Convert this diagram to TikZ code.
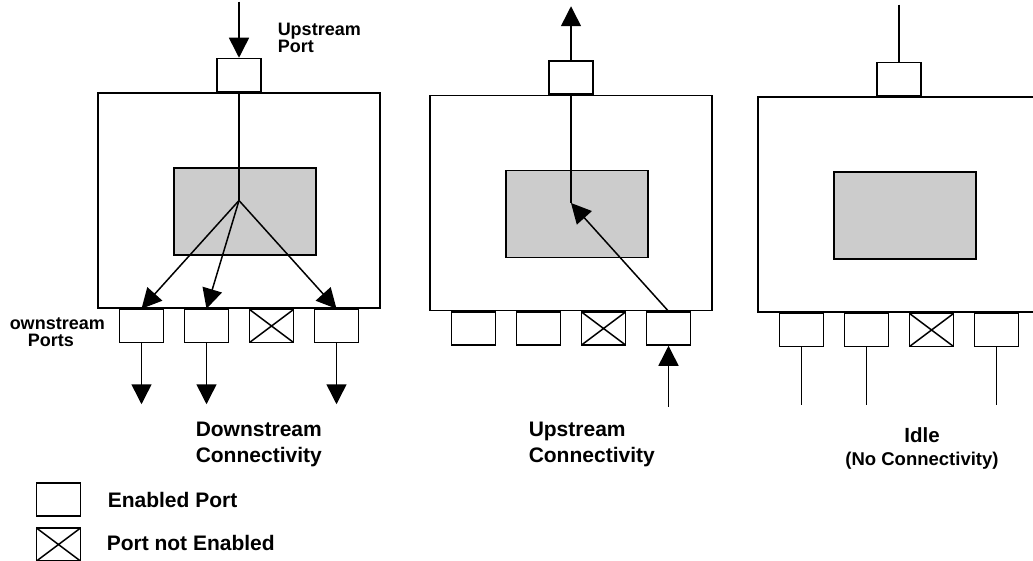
\documentclass[tikz,border=0pt]{standalone}
\usepackage{fontspec}
\setmainfont{Liberation Sans}
\usetikzlibrary{arrows.meta, positioning, calc}

\begin{document}
\begin{tikzpicture}[
    x=1pt, y=-1pt,
    line width=1.5pt,
    switch/.style={
        rectangle,
        draw,
        minimum width=282pt,
        minimum height=215pt,
        inner sep=0pt
    },
    core/.style={
        rectangle,
        draw,
        fill=black!20,
        minimum width=142pt,
        minimum height=87pt,
        inner sep=0pt
    },
    port/.style={
        rectangle,
        draw,
        fill=white,
        minimum width=44pt,
        minimum height=33pt,
        inner sep=0pt
    },
    offport/.style={
        port,
        path picture={
            \draw (path picture bounding box.south west) -- (path picture bounding box.north east)
                  (path picture bounding box.north west) -- (path picture bounding box.south east);
        }
    },
    arrow/.style={
        -{Triangle[length=20pt, width=20pt]},
        line width=1.5pt
    },
    caption/.style={
        font=\bfseries\fontsize{21}{26}\selectfont,
        inner sep=0pt,
        align=left
    },
    smallcap/.style={
        caption,
        font=\bfseries\fontsize{18}{17.5}\selectfont
    }
]

\useasboundingbox (0,0) rectangle (1033,561);
\clip (0,0) rectangle (1033,561);

% the three switches
\foreach \n/\cx/\cy in {1/239/200.5, 2/571/203, 3/899/204.5} {
    \node[switch] (sw\n) at (\cx,\cy) {};
    \node[core] (core\n) at ($(sw\n.center)+(6,11)$) {};
    \coordinate (hub\n) at (sw\n.center);
    \node[port, above=0pt of sw\n] (u\n) {};
    \foreach \i/\dx in {1/-97.5, 2/-32.5, 4/97.5}
        \node[port, anchor=north] (p\n\i) at ($(sw\n.south)+(\dx,0)$) {};
    \node[offport, anchor=north] (p\n3) at ($(sw\n.south)+(32.5,0)$) {};
}

% downstream
\coordinate (in1) at ($(u1.north)+(0,-56)$);
\draw[arrow] (in1) -- (u1);
\draw (u1) -- (hub1);
\foreach \i in {1,2,4} {
    \draw[arrow] (hub1) -- (p1\i.north);
    \coordinate (out1\i) at ($(p1\i.south)+(0,61)$);
    \draw[arrow] (p1\i) -- (out1\i);
}

% upstream
\coordinate (out2) at ($(u2.north)+(0,-54)$);
\draw[arrow] (u2) -- (out2);
\draw (hub2) -- (u2);
\draw[arrow] (p24.north) -- (hub2);
\coordinate (in2) at ($(p24.south)+(0,61)$);
\draw[arrow] (in2) -- (p24);

% idle
\coordinate (in3) at ($(u3.north)+(0,-57)$);
\draw (in3) -- (u3);
\foreach \i in {1,2,4} {
    \coordinate (out3\i) at ($(p3\i.south)+(0,58)$);
    \draw (p3\i) -- (out3\i);
}

% labels
\node[smallcap, anchor=north west] (uplbl) at (277,22.1) {Upstream\\Port};
\node[smallcap, font=\bfseries\fontsize{18}{17}\selectfont, anchor=north west] (dnlbl) at (9,317) {ownstream\\\hspace*{18pt}Ports};
\node[caption, anchor=north west] (dncap) at (195,421.7) {Downstream\\Connectivity};
\node[caption, anchor=north west] (upcap) at (528,421.7) {Upstream\\Connectivity};
\node[caption, align=center, anchor=north, font=\bfseries\fontsize{18.5}{23}\selectfont] (idlecap) at (922,427.3)
    {{\fontsize{20.5}{23}\selectfont Idle}\\(No Connectivity)};

% legend
\node[port] (keyon) at (58.5,499.5) {};
\node[offport, below=10.5pt of keyon] (keyoff) {};
\node[caption, anchor=base west] (keyontxt) at (107,507) {Enabled Port};
\node[caption, anchor=base west] (keyofftxt) at (106,550) {Port not Enabled};

\end{tikzpicture}
\end{document}
